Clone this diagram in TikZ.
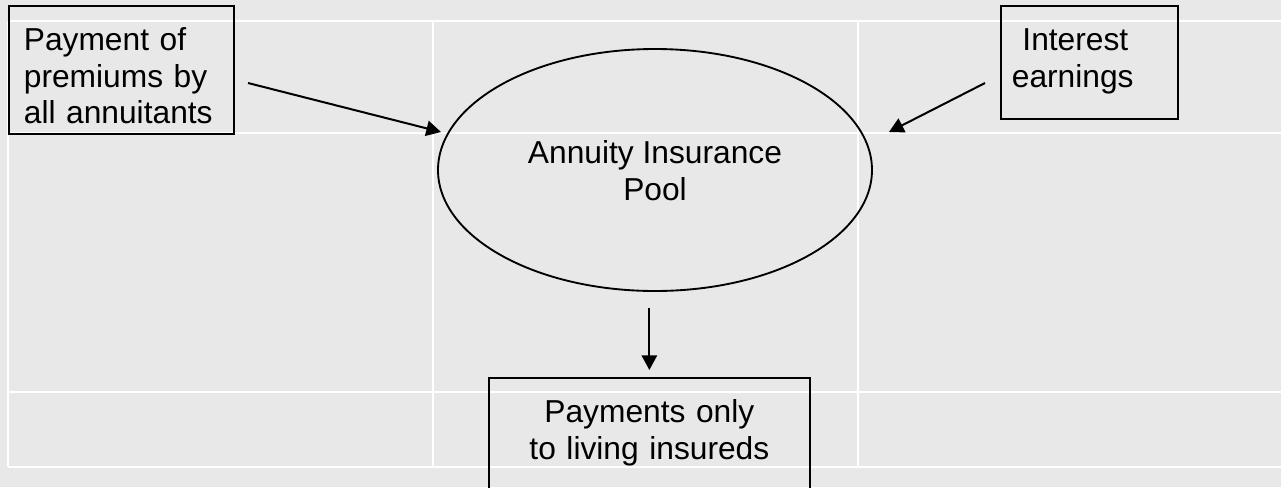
\documentclass[tikz,border=0pt]{standalone}
\usepackage{fontspec}
\setmainfont{Liberation Sans}
\usetikzlibrary{arrows.meta,shapes.geometric,calc}

\definecolor{sheet}{HTML}{E8E8E8}

\begin{document}
\begin{tikzpicture}[x=0.75pt,y=-0.75pt,
	grid line/.style={white,line width=1.5pt},
	text box/.style={draw,line width=1.3pt,anchor=north west,inner ysep=0pt,
		text height=33.75pt,font=\fontsize{23.8}{27.4}\selectfont},
	pool node/.style={ellipse,draw,line width=1.4pt,inner sep=0pt,align=center,
		minimum width=325.5pt,minimum height=181.5pt,
		text height=60pt,text depth=15pt,font=\fontsize{23.8}{27.4}\selectfont},
	flow/.style={-{Triangle[length=11pt,width=11.5pt]},line width=1.5pt}
]

	\useasboundingbox (0,0) rectangle (1281,487);
	\fill[sheet] (0,0) rectangle (1281,487);
	\clip (0,0) rectangle (1281,487);

	% table grid behind the flow chart
	\foreach \y in {21,133,392,467}
		\draw[grid line] (8,\y) -- (1281,\y);
	\foreach \x in {8,433,858}
		\draw[grid line] (\x,21) -- (\x,467);

	\node[text box,align=left,inner xsep=11.25pt,text width=146.25pt,text depth=62.25pt]
		(premiums) at (8,5) {Payment of\\premiums by\\all annuitants};
	\node[text box,align=left,inner xsep=8.25pt,text width=116.25pt,text depth=51pt]
		(interest) at (1000,5) {~Interest\\earnings};
	\node[pool node] (pool) at (655,170) {Annuity Insurance\\Pool};
	\node[text box,align=center,inner xsep=0pt,text width=240.75pt,text depth=75pt]
		(payout) at (488,377) {Payments only\\to living insureds};

	\coordinate (premiums tail) at (248,83);
	\coordinate (premiums head) at (441,132);
	\coordinate (interest tail) at (985,83);
	\coordinate (interest head) at (889,132);

	\draw[flow] (premiums tail) -- (premiums head);
	\draw[flow] (interest tail) -- (interest head);
	\draw[flow] ([yshift=-12pt]payout.north |- pool.south) -- ([yshift=5.25pt]payout.north);
\end{tikzpicture}
\end{document}
